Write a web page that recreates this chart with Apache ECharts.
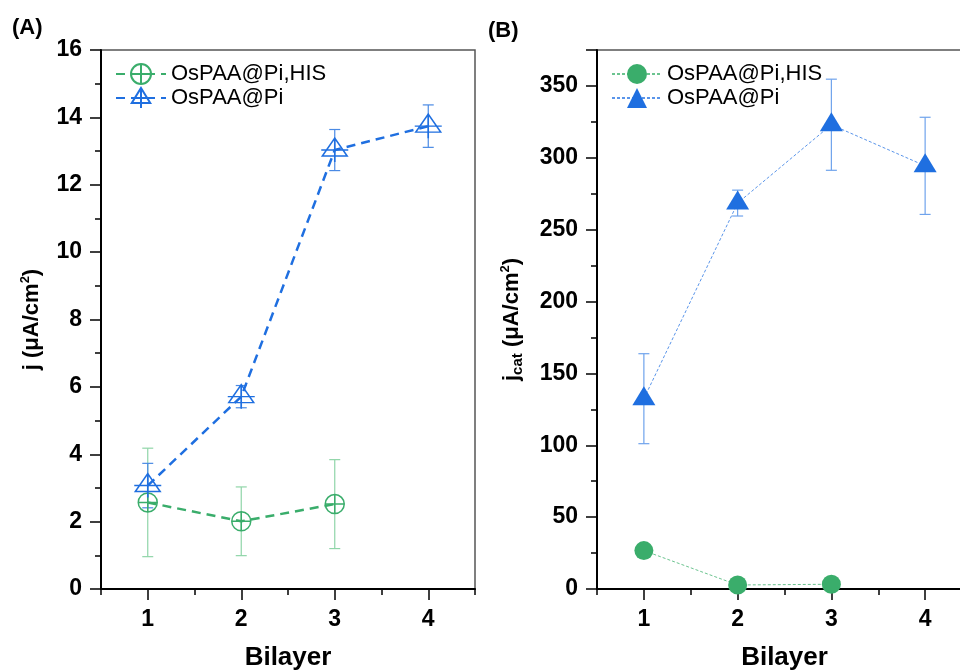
<!DOCTYPE html>
<html>
<head>
<meta charset="utf-8">
<script src="https://cdn.jsdelivr.net/npm/echarts@6/dist/echarts.min.js"></script>
<style>
  html, body { margin: 0; padding: 0; background: #fff; }
  #main { width: 960px; height: 671px; }
</style>
</head>
<body>
<div id="main"></div>
<script>
    var bilayers = ['1', '2', '3', '4'];

    // (A) j in uA/cm2
    var jHis = [2.57, 2.01, 2.52];
    var jHisErr = [1.61, 1.02, 1.32];
    var jPi = [3.07, 5.71, 13.03, 13.74];
    var jPiErr = [0.66, 0.33, 0.61, 0.63];

    // (B) jcat in uA/cm2
    var jcatHis = [26.7, 2.8, 3.3];
    var jcatPi = [132.4, 268.5, 323, 294.4];
    var jcatPiErr = [31.3, 9, 31.7, 33.8];

    var nameHis = 'OsPAA@Pi,HIS';
    var namePi = 'OsPAA@Pi';

    var font = 'Liberation Sans, Arial, sans-serif';
    var green = '#3aad6b';
    var blue = '#1f6fe0';

    // circle with a plus inside, triangle with a plus inside (Origin style)
    var circlePlus = 'path://M0,10A10,10,0,1,1,20,10A10,10,0,1,1,0,10ZM0,10L20,10M10,0L10,20';
    var trianglePlus = 'path://M13,0L25,18L1,18ZM0,12L26,12M13,0L13,24';

    function errRows(vals, errs) {
        return vals.map(function (v, i) { return [i, v - errs[i], v + errs[i]]; });
    }

    function errorBars(color, capHalf) {
        return function (params, api) {
            var x = api.value(0);
            var top = api.coord([x, api.value(2)]);
            var bot = api.coord([x, api.value(1)]);
            var style = { stroke: color, lineWidth: 1.2, fill: null };
            return {
                type: 'group',
                children: [
                    { type: 'line', shape: { x1: top[0], y1: top[1], x2: bot[0], y2: bot[1] }, style: style },
                    { type: 'line', shape: { x1: top[0] - capHalf, y1: top[1], x2: top[0] + capHalf, y2: top[1] }, style: style },
                    { type: 'line', shape: { x1: bot[0] - capHalf, y1: bot[1], x2: bot[0] + capHalf, y2: bot[1] }, style: style }
                ]
            };
        };
    }

    function xAxes(g) {
        return [
            {
                gridIndex: g, type: 'category', position: 'bottom', data: bilayers, boundaryGap: true,
                axisLine: { show: true, lineStyle: { color: '#000', width: 2 } },
                axisTick: { show: true, alignWithLabel: false, length: 6, lineStyle: { color: '#000', width: 1.5 } },
                axisLabel: { show: false }, splitLine: { show: false }
            },
            {
                gridIndex: g, type: 'category', position: 'bottom', data: bilayers, boundaryGap: true,
                axisLine: { show: false },
                axisTick: { show: true, alignWithLabel: true, length: 11, lineStyle: { color: '#000', width: 1.5 } },
                axisLabel: { show: true, color: '#000', fontSize: 23, fontWeight: 'bold', fontFamily: font, margin: 19 },
                splitLine: { show: false },
                name: 'Bilayer', nameLocation: 'middle', nameGap: 56,
                nameTextStyle: { color: '#000', fontSize: 26, fontWeight: 'bold', fontFamily: font }
            }
        ];
    }

    function yAxis(g, max, interval, name, gap) {
        return {
            gridIndex: g, type: 'value', min: 0, max: max, interval: interval,
            axisLine: { show: true, lineStyle: { color: '#000', width: 2 } },
            axisTick: { show: true, length: 11, lineStyle: { color: '#000', width: 1.5 } },
            minorTick: { show: true, splitNumber: 2, length: 6, lineStyle: { color: '#000', width: 1.5 } },
            splitLine: { show: false },
            axisLabel: {
                color: '#000', fontSize: 23, fontWeight: 'bold', fontFamily: font, margin: 19,
                formatter: function (v) { return v % interval === 0 ? String(v) : ''; }
            },
            name: name, nameLocation: 'middle', nameGap: gap, nameRotate: 90,
            nameTextStyle: {
                rich: {
                    t: { color: '#000', fontSize: 22, fontWeight: 'bold', fontFamily: font, lineHeight: 26 },
                    s: { color: '#000', fontSize: 13, fontWeight: 'bold', fontFamily: font, verticalAlign: 'top', lineHeight: 26 },
                    b: { color: '#000', fontSize: 15, fontWeight: 'bold', fontFamily: font, verticalAlign: 'bottom', lineHeight: 22 }
                }
            }
        };
    }

    var chart = echarts.init(document.getElementById('main'));
    chart.setOption({
        animation: false,
        backgroundColor: '#fff',
        graphic: [
            { type: 'text', left: 12, top: 17, style: { text: '(A)', font: 'bold 22px ' + font, fill: '#000' } },
            { type: 'text', left: 488, top: 20, style: { text: '(B)', font: 'bold 22px ' + font, fill: '#000' } }
        ],
        grid: [
            { left: 101, top: 50, width: 374, height: 539, show: true, borderColor: '#555', borderWidth: 1.5, outerBoundsMode: 'none' },
            { left: 597, top: 50, width: 375, height: 539, show: true, borderColor: '#555', borderWidth: 1.5, outerBoundsMode: 'none' }
        ],
        legend: [
            {
                left: 110, top: 58, orient: 'vertical', itemWidth: 50, itemHeight: 25, itemGap: 2,
                textStyle: { color: '#000', fontSize: 22, fontFamily: font },
                data: [nameHis, namePi]
            },
            {
                left: 606, top: 58, orient: 'vertical', itemWidth: 50, itemHeight: 25, itemGap: 2,
                textStyle: { color: '#000', fontSize: 22, fontFamily: font },
                formatter: function (n) { return n.replace(/^B:/, ''); },
                data: ['B:' + nameHis, 'B:' + namePi]
            }
        ],
        xAxis: xAxes(0).concat(xAxes(1)),
        yAxis: [
            yAxis(0, 16, 2, '{t|j (μA/cm}{s|2}{t|)}', 56),
            yAxis(1, 375, 50, '{t|j}{b|cat}{t| (μA/cm}{s|2}{t|)}', 72)
        ],
        series: [
            {
                type: 'custom', name: 'errHis', xAxisIndex: 0, yAxisIndex: 0, z: 1,
                renderItem: errorBars('#8fd5a8', 5.5), encode: { x: 0, y: [1, 2] },
                data: errRows(jHis, jHisErr)
            },
            {
                type: 'custom', name: 'errPi', xAxisIndex: 0, yAxisIndex: 0, z: 1,
                renderItem: errorBars('#4a8ae4', 5.5), encode: { x: 0, y: [1, 2] },
                data: errRows(jPi, jPiErr)
            },
            {
                type: 'line', name: nameHis, xAxisIndex: 0, yAxisIndex: 0, z: 3,
                data: jHis, symbol: circlePlus, symbolSize: 19,
                itemStyle: { color: 'rgba(255,255,255,0)', borderColor: green, borderWidth: 1.5 },
                lineStyle: { color: green, width: 2.5, type: [9, 6] }
            },
            {
                type: 'line', name: namePi, xAxisIndex: 0, yAxisIndex: 0, z: 3,
                data: jPi, symbol: trianglePlus, symbolSize: [27, 24],
                itemStyle: { color: 'rgba(255,255,255,0)', borderColor: blue, borderWidth: 1.5 },
                lineStyle: { color: blue, width: 2.5, type: [9, 6] }
            },
            {
                type: 'custom', name: 'errCat', xAxisIndex: 2, yAxisIndex: 1, z: 1,
                renderItem: errorBars('#6fa3ec', 5.5), encode: { x: 0, y: [1, 2] },
                data: errRows(jcatPi, jcatPiErr)
            },
            {
                type: 'line', name: 'B:' + nameHis, xAxisIndex: 2, yAxisIndex: 1, z: 3,
                data: jcatHis, symbol: 'circle', symbolSize: 19,
                itemStyle: { color: green, borderWidth: 0 },
                lineStyle: { color: '#6cc490', width: 1, type: [3, 2] }
            },
            {
                type: 'line', name: 'B:' + namePi, xAxisIndex: 2, yAxisIndex: 1, z: 3,
                data: jcatPi, symbol: 'triangle', symbolSize: [23, 19], symbolOffset: [0, -3],
                itemStyle: { color: blue, borderWidth: 0 },
                lineStyle: { color: '#5a95ea', width: 1, type: [3, 2] }
            }
        ]
    });
</script>
</body>
</html>
